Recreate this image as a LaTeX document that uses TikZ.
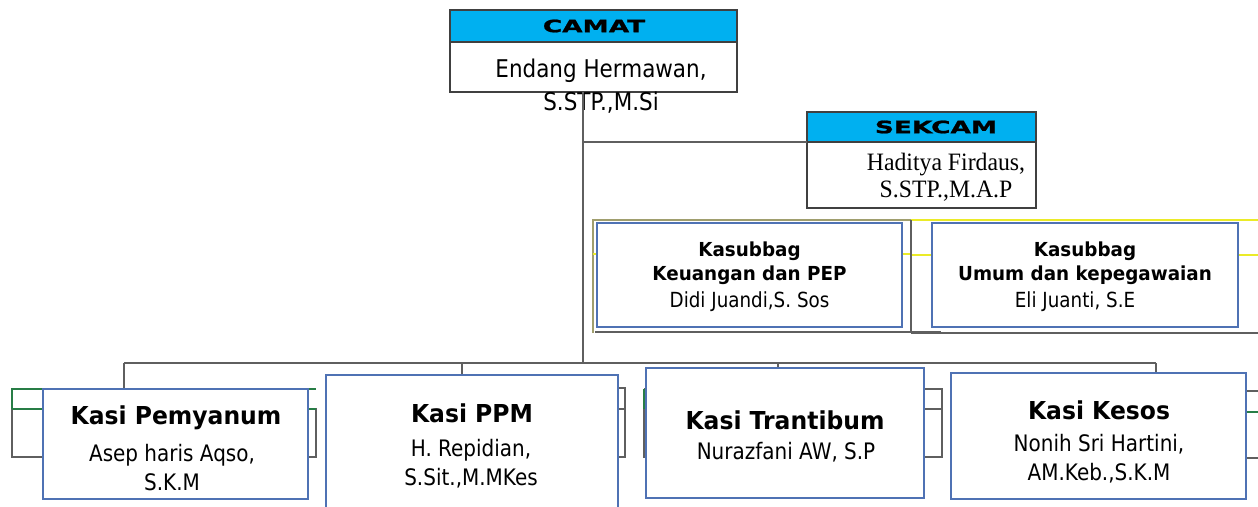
\documentclass[tikz,border=0pt]{standalone}
\usepackage{fontspec}
\setmainfont{DejaVu Sans}[FakeStretch=0.88,BoldFeatures={FakeStretch=0.95}]
\newfontfamily\hdrfont[FakeStretch=1.55,FakeBold=1.2]{DejaVu Sans}
\newfontfamily\serfont[FakeStretch=0.95]{Liberation Serif}
\definecolor{hdrblue}{RGB}{0,176,240}
\definecolor{boxblue}{RGB}{79,114,180}
\definecolor{connc}{RGB}{95,95,95}
\definecolor{olivec}{RGB}{160,158,110}
\definecolor{yelc}{RGB}{235,235,40}
\definecolor{grnc}{RGB}{40,125,70}
\begin{document}
\begin{tikzpicture}[x=1pt,y=-1pt,
  conn/.style={draw=connc,line width=1.3pt},
  hdr/.style={draw=black!75,line width=1.2pt,fill=hdrblue,inner sep=0,outer sep=0},
  body/.style={draw=black!75,line width=1.2pt,fill=white,inner sep=0,outer sep=0},
  kbox/.style={draw=boxblue,line width=1.2pt,fill=white,inner sep=0,outer sep=0},
  back/.style={draw=connc,line width=1.1pt},
  txt/.style={inner sep=0,align=center,font=\fontsize{22.7}{29}\selectfont},
  ttl/.style={inner sep=0,align=center,font=\fontsize{24.7}{28}\selectfont\bfseries},
  sub/.style={inner sep=0,align=center,font=\fontsize{20.8}{25.5}\selectfont},
  subb/.style={inner sep=0,align=center,font=\fontsize{19.3}{24}\selectfont\bfseries},
  hdrtxt/.style={inner sep=0,font=\hdrfont\bfseries\fontsize{17}{20}\selectfont}]
\useasboundingbox (0,0) rectangle (1258,506);
\clip (0,0) rectangle (1258,506);

% coordinates of the bus
\coordinate (bus0) at (124,363);
\coordinate (bus1) at (462,363);
\coordinate (busc) at (583,363);
\coordinate (bus3) at (778,363);
\coordinate (bus4) at (1156,363);

% CAMAT
\node[hdr,minimum width=287,minimum height=32] (camathead) at (593.5,26) {};
\node[body,minimum width=287,minimum height=50] (camatbody) at (593.5,67) {};
\node[hdrtxt] (camatlbl) at (594,26) {CAMAT};
\node[txt,font=\fontsize{24.4}{33}\selectfont] (camatname) at (601,86.5) {Endang Hermawan,\\S.STP.,M.Si};

% SEKCAM
\node[hdr,minimum width=229,minimum height=30] (sekhead) at (921.5,127) {};
\node[body,minimum width=229,minimum height=66] (sekbody) at (921.5,175) {};
\node[hdrtxt] (seklbl) at (936,127) {SEKCAM};
\node[inner sep=0,align=center,font=\serfont\fontsize{25}{27}\selectfont] (sekname) at (946,177) {Haditya Firdaus,\\S.STP.,M.A.P};

% connectors
\draw[conn] (camatbody.south -| busc) -- (busc);
\draw[conn] (sekhead.south west -| busc) -- (sekhead.south west);
\draw[conn] (bus0) -- (bus4);

% Kasubbag background cells
\draw[draw=olivec,line width=1.2pt] (593,333) -- (593,220) -- (911,220);
\draw[draw=yelc,line width=1.6pt] (593,254) -- (911,254);
\draw[draw=yelc,line width=1.6pt] (911,220) -- (1260,220);
\draw[draw=yelc,line width=1.6pt] (911,255) -- (1260,255);
\draw[back] (911,220) -- (911,333);
\draw[back] (595,332) -- (941,332);
\draw[back] (911,333) -- (1260,333);

\node[kbox,minimum width=305,minimum height=104] (kb1) at (749.5,275) {};
\node[kbox,minimum width=306,minimum height=104] (kb2) at (1085,275) {};
\node[subb] (kb1t) at (749.5,263) {Kasubbag\\Keuangan dan PEP};
\node[sub] (kb1n) at (749.5,302) {Didi Juandi,S. Sos};
\node[subb] (kb2t) at (1085,263) {Kasubbag\\Umum dan kepegawaian};
\node[sub] (kb2n) at (1075,302) {Eli Juanti, S.E};

% drops
\draw[conn] (bus0) -- (124,389);
\draw[conn] (bus1) -- (462,375);
\draw[conn] (bus3) -- (778,368);
\draw[conn] (bus4) -- (1156,373);

% background cells of the Kasi row
\draw[back] (12,409) rectangle (316,457);
\draw[draw=grnc,line width=1.3pt] (12,409) -- (12,389) -- (316,389);
\draw[draw=grnc,line width=1.3pt] (12,409) -- (316,409);
\draw[back] (330,388) rectangle (625,457);
\draw[back] (330,409) -- (625,409);
\draw[back] (644,409) rectangle (942,457);
\draw[back] (644,389) -- (942,389) -- (942,409);
\draw[draw=grnc,line width=1.3pt] (644,389) -- (644,409);
\draw[back] (955,391) rectangle (1275,458);
\draw[draw=grnc,line width=1.1pt] (955,412) -- (1275,412);

% Kasi boxes
\node[kbox,minimum width=265,minimum height=110] (k1) at (175.5,444) {};
\node[kbox,minimum width=292,minimum height=140] (k2) at (472,445) {};
\node[kbox,minimum width=278,minimum height=130] (k3) at (785,433) {};
\node[kbox,minimum width=295,minimum height=126] (k4) at (1098.5,436) {};

\node[ttl] (k1t) at (176,418) {Kasi Pemyanum};
\node[txt] (k1n) at (172,468) {Asep haris Aqso,\\S.K.M};
\node[ttl] (k2t) at (472,413) {Kasi PPM};
\node[txt] (k2n) at (471,464) {H. Repidian,\\S.Sit.,M.MKes};
\node[ttl] (k3t) at (785,420) {Kasi Trantibum};
\node[txt] (k3n) at (786,452) {Nurazfani AW, S.P};
\node[ttl] (k4t) at (1099,410) {Kasi Kesos};
\node[txt] (k4n) at (1099,459) {Nonih Sri Hartini,\\AM.Keb.,S.K.M};
\end{tikzpicture}
\end{document}
